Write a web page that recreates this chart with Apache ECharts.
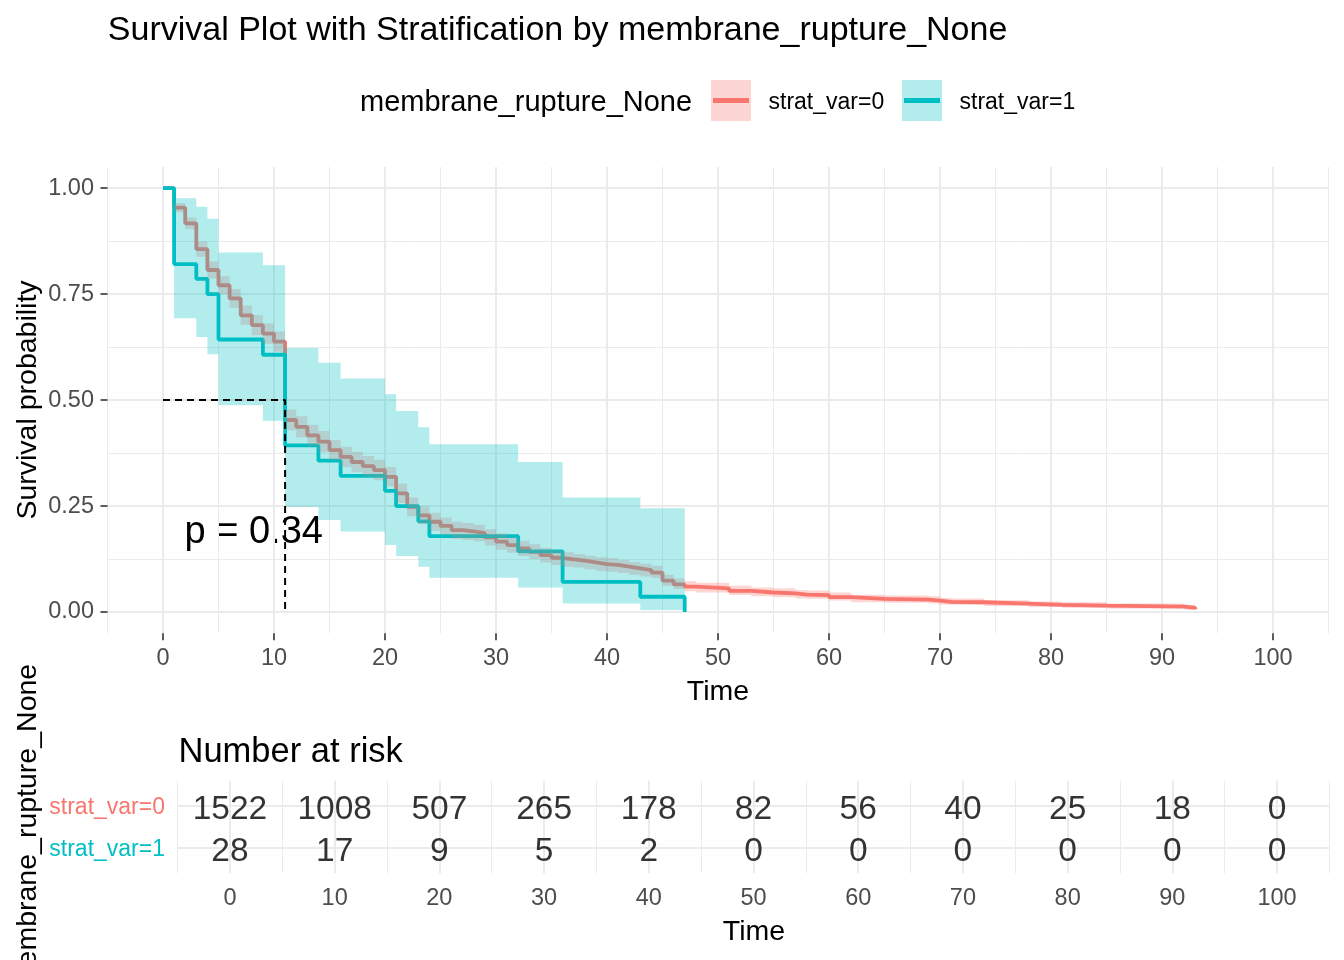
<!DOCTYPE html>
<html><head><meta charset="utf-8">
<script src="https://cdn.jsdelivr.net/npm/echarts@6/dist/echarts.min.js"></script>
<style>html,body{margin:0;padding:0;background:#fff}#c{width:1344px;height:960px}</style>
</head><body><div id="c"></div><script>
// ---- data ----
const redTime = [0,1,2,3,4,5,6,7,8,9,10,11,12,13,14,15,16,17,18,19,20,21,22,23,24,25,26,27,28,29,30,31,32,33,34,35,36,37,38,39,40,41,42,43,44,45,46,47,48,51,53,55,57,58,60,62,65,69,70,71,74,78,81,85,92,93];
const redSurv = [1.000,0.954,0.917,0.856,0.807,0.771,0.740,0.700,0.677,0.657,0.638,0.453,0.437,0.417,0.402,0.382,0.366,0.354,0.344,0.335,0.319,0.280,0.248,0.228,0.213,0.203,0.193,0.190,0.186,0.176,0.166,0.158,0.150,0.142,0.134,0.128,0.124,0.121,0.117,0.113,0.111,0.107,0.103,0.099,0.093,0.074,0.065,0.060,0.056,0.050,0.046,0.044,0.041,0.040,0.035,0.031,0.029,0.027,0.024,0.023,0.020,0.017,0.015,0.0126,0.010,0.0067];
const redLower = [1.000,0.943,0.903,0.838,0.787,0.750,0.718,0.677,0.653,0.633,0.614,0.428,0.412,0.392,0.377,0.358,0.342,0.330,0.320,0.311,0.296,0.257,0.226,0.207,0.192,0.183,0.173,0.170,0.167,0.157,0.147,0.140,0.132,0.125,0.117,0.111,0.107,0.105,0.101,0.097,0.095,0.092,0.088,0.084,0.080,0.062,0.054,0.049,0.046,0.040,0.037,0.035,0.032,0.031,0.027,0.023,0.022,0.020,0.017,0.017,0.014,0.012,0.010,0.008,0.006,0.004];
const redUpper = [1.000,0.965,0.931,0.874,0.827,0.792,0.762,0.723,0.701,0.681,0.662,0.478,0.462,0.442,0.427,0.406,0.390,0.378,0.368,0.359,0.342,0.303,0.270,0.249,0.234,0.223,0.213,0.210,0.206,0.195,0.185,0.176,0.168,0.160,0.151,0.145,0.141,0.137,0.133,0.129,0.127,0.123,0.118,0.114,0.109,0.088,0.079,0.073,0.069,0.062,0.058,0.056,0.052,0.051,0.046,0.041,0.039,0.037,0.033,0.032,0.028,0.025,0.023,0.020,0.017,0.012];

const tealTime = [0,1,3,4,5,9,11,14,16,20,21,23,24,32,36,43,47];
const tealSurv = [1,0.821,0.786,0.750,0.643,0.607,0.393,0.357,0.321,0.286,0.250,0.214,0.179,0.143,0.071,0.036,0];
const tealLower = [1,0.693,0.649,0.608,0.488,0.451,0.248,0.217,0.190,0.158,0.132,0.107,0.081,0.058,0.020,0.005,0];
const tealUpper = [1,0.976,0.956,0.928,0.848,0.818,0.623,0.588,0.551,0.514,0.474,0.436,0.396,0.354,0.270,0.245,0];

const medianTime = 11;
const pValueText = 'p = 0.34';

const riskTime = [0,10,20,30,40,50,60,70,80,90,100];
const risk0 = [1522,1008,507,265,178,82,56,40,25,18,0];
const risk1 = [28,17,9,5,2,0,0,0,0,0,0];

const groupNames = ['strat_var=0','strat_var=1'];
const colors = ['#F8766D','#00BFC4'];
const bandColors = ['rgba(248,118,109,0.3)','rgba(0,191,196,0.3)'];

// ---- chart ----
const FONT = '"Liberation Sans", Arial, sans-serif';
const MAJOR = '#EBEBEB';
const chart = echarts.init(document.getElementById('c'), null, {renderer:'canvas'});

function hidden(extra){
  return Object.assign({type:'value', axisLine:{show:false}, axisTick:{show:false}, axisLabel:{show:false}, splitLine:{show:false}}, extra);
}
function bandSeries(name, t, lo, up, color){
  return {
    type:'custom', name:name, xAxisIndex:0, yAxisIndex:0, z:3, silent:true,
    data: t.map((v,i)=>[v, lo[i], up[i]]),
    encode:{x:0, y:[1,2]},
    renderItem:function(params, api){
      if (params.dataIndex !== 0) return null;
      const top=[], bot=[];
      for (let i=0;i<t.length-1;i++){
        top.push(api.coord([t[i], up[i]]), api.coord([t[i+1], up[i]]));
        bot.push(api.coord([t[i], lo[i]]), api.coord([t[i+1], lo[i]]));
      }
      return {type:'polygon', shape:{points: top.concat(bot.reverse())}, style:{fill:color}};
    }
  };
}
const tickStyle = {show:true, length:7, lineStyle:{color:'#333333', width:1.6}};

const option = {
  animation:false,
  textStyle:{fontFamily:FONT},
  grid:[
    {left:107.5, right:15.5, top:167, bottom:326.8},   // 0: survival panel
    {left:163, right:71, top:188.2, bottom:326.8},     // 1: x ticks/labels (data range 0..100)
    {left:107.5, right:15.5, top:188.2, bottom:348},   // 2: y ticks/labels (data range 0..1)
    {left:177.6, right:14.6, top:780.8, bottom:86.8}   // 3: risk table
  ],
  xAxis:[
    hidden({gridIndex:0, min:-5, max:105, minInterval:10, maxInterval:10,
      splitLine:{show:true, showMinLine:false, showMaxLine:false, lineStyle:{color:MAJOR, width:2}}}),
    hidden({gridIndex:0, min:-5, max:105, interval:10, position:'top',
      splitLine:{show:true, lineStyle:{color:MAJOR, width:1}}}),
    {type:'value', gridIndex:1, min:0, max:100, interval:10,
      axisLine:{show:false}, axisTick:tickStyle,
      axisLabel:{color:'#4D4D4D', fontSize:23.5, margin:13, fontFamily:FONT}, splitLine:{show:false}},
    hidden({gridIndex:2, min:0, max:1}),
    hidden({gridIndex:3, min:-5, max:105, minInterval:10, maxInterval:10,
      axisLabel:{show:true, color:'#4D4D4D', fontSize:23.5, margin:13.5, fontFamily:FONT,
        formatter:function(v){ return (v>=0 && v<=100) ? String(v) : ''; }},
      splitLine:{show:true, showMinLine:false, showMaxLine:false, lineStyle:{color:MAJOR, width:2}}}),
    hidden({gridIndex:3, min:-5, max:105, interval:10, position:'top',
      splitLine:{show:true, lineStyle:{color:MAJOR, width:1}}})
  ],
  yAxis:[
    hidden({gridIndex:0, min:-0.05, max:1.05, minInterval:0.25, maxInterval:0.25,
      splitLine:{show:true, showMinLine:false, showMaxLine:false, lineStyle:{color:MAJOR, width:2}}}),
    hidden({gridIndex:0, min:-0.05, max:1.05, minInterval:0.125, maxInterval:0.125, position:'right',
      splitLine:{show:true, showMinLine:false, showMaxLine:false, lineStyle:{color:['rgba(0,0,0,0)', MAJOR], width:1}}}),
    hidden({gridIndex:1, min:0, max:1}),
    {type:'value', gridIndex:2, min:0, max:1, interval:0.25,
      axisLine:{show:false}, axisTick:tickStyle,
      axisLabel:{color:'#4D4D4D', fontSize:23.5, margin:13.5, fontFamily:FONT, padding:[4,0,0,0], formatter:function(v){return v.toFixed(2);}},
      splitLine:{show:false}},
    hidden({gridIndex:3, min:-0.6, max:1.6, minInterval:1, maxInterval:1,
      axisLabel:{show:true, margin:12.6, fontSize:23, fontFamily:FONT, padding:[4,0,0,0],
        formatter:function(v){ if (v===1) return '{a|'+groupNames[0]+'}'; if (v===0) return '{b|'+groupNames[1]+'}'; return ''; },
        rich:{a:{color:colors[0], fontSize:23, fontFamily:FONT}, b:{color:colors[1], fontSize:23, fontFamily:FONT}}},
      splitLine:{show:true, showMinLine:false, showMaxLine:false, lineStyle:{color:MAJOR, width:2}}})
  ],
  series:[
    {type:'line', name:groupNames[0], xAxisIndex:0, yAxisIndex:0, step:'end', showSymbol:false, symbol:'none', z:2, silent:true,
      data: redTime.map((t,i)=>[t, redSurv[i]]), lineStyle:{color:colors[0], width:3.8}},
    {type:'line', name:groupNames[1], xAxisIndex:0, yAxisIndex:0, step:'end', showSymbol:false, symbol:'none', z:2, silent:true,
      data: tealTime.map((t,i)=>[t, tealSurv[i]]), lineStyle:{color:colors[1], width:3.8}},
    bandSeries('band0', redTime, redLower, redUpper, bandColors[0]),
    bandSeries('band1', tealTime, tealLower, tealUpper, bandColors[1]),
    {type:'line', name:'median', xAxisIndex:0, yAxisIndex:0, showSymbol:false, symbol:'none', z:4, silent:true,
      data:[[0,0.5],[medianTime,0.5],[medianTime,0]], lineStyle:{color:'#000', width:2, type:[7,5]}},
    {type:'scatter', name:'risk0', xAxisIndex:4, yAxisIndex:4, symbolSize:1, silent:true,
      itemStyle:{color:'rgba(0,0,0,0)'},
      data: riskTime.map((t,i)=>[t, 1, risk0[i]]),
      label:{show:true, position:'inside', offset:[0,4], color:'#000', fontSize:33.5, fontFamily:FONT, formatter:function(p){return String(p.value[2]);}}},
    {type:'scatter', name:'risk1', xAxisIndex:4, yAxisIndex:4, symbolSize:1, silent:true,
      itemStyle:{color:'rgba(0,0,0,0)'},
      data: riskTime.map((t,i)=>[t, 0, risk1[i]]),
      label:{show:true, position:'inside', offset:[0,4], color:'#000', fontSize:33.5, fontFamily:FONT, formatter:function(p){return String(p.value[2]);}}}
  ],
  graphic:[
    {type:'text', x:107.8, y:30.5, style:{text:'Survival Plot with Stratification by membrane_rupture_None', fontSize:34, fontFamily:FONT, fill:'#000', align:'left', verticalAlign:'middle'}},
    {type:'text', x:360, y:103, style:{text:'membrane_rupture_None', fontSize:29, fontFamily:FONT, fill:'#000', align:'left', verticalAlign:'middle'}},
    {type:'rect', shape:{x:711, y:80, width:40, height:41}, style:{fill:bandColors[0]}},
    {type:'line', shape:{x1:713, y1:100.5, x2:749, y2:100.5}, style:{stroke:colors[0], lineWidth:5}},
    {type:'text', x:768.5, y:102.5, style:{text:groupNames[0], fontSize:23, fontFamily:FONT, fill:'#000', align:'left', verticalAlign:'middle'}},
    {type:'rect', shape:{x:902, y:80, width:40, height:41}, style:{fill:bandColors[1]}},
    {type:'line', shape:{x1:904, y1:100.5, x2:940, y2:100.5}, style:{stroke:colors[1], lineWidth:5}},
    {type:'text', x:959.5, y:102.5, style:{text:groupNames[1], fontSize:23, fontFamily:FONT, fill:'#000', align:'left', verticalAlign:'middle'}},
    {type:'text', x:28.5, y:400, rotation:Math.PI/2, style:{text:'Survival probability', fontSize:28.5, fontFamily:FONT, fill:'#000', align:'center', verticalAlign:'middle'}},
    {type:'text', x:718, y:692, style:{text:'Time', fontSize:28.5, fontFamily:FONT, fill:'#000', align:'center', verticalAlign:'middle'}},
    {type:'text', x:184.5, y:533, style:{text:pValueText, fontSize:38, fontFamily:FONT, fill:'#000', align:'left', verticalAlign:'middle'}},
    {type:'text', x:178.5, y:752, style:{text:'Number at risk', fontSize:34.5, fontFamily:FONT, fill:'#000', align:'left', verticalAlign:'middle'}},
    {type:'text', x:754, y:932, style:{text:'Time', fontSize:28.5, fontFamily:FONT, fill:'#000', align:'center', verticalAlign:'middle'}},
    {type:'text', x:28.5, y:827, rotation:Math.PI/2, style:{text:'membrane_rupture_None', fontSize:28.5, fontFamily:FONT, fill:'#000', align:'center', verticalAlign:'middle'}}
  ]
};
chart.setOption(option);
</script></body></html>
